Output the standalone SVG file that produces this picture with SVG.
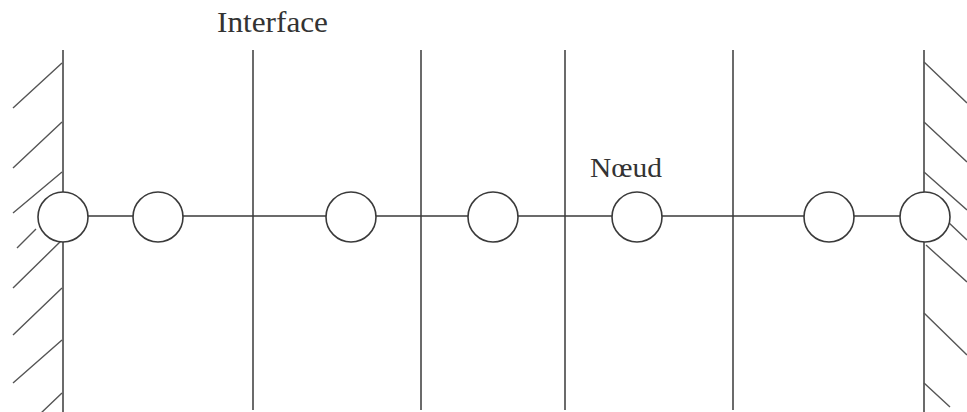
<svg xmlns="http://www.w3.org/2000/svg" width="967" height="412" viewBox="0 0 967 412">
<style>
.ln{stroke:#3a3a3a;stroke-width:1.5;fill:none}
.ht{stroke:#555;stroke-width:1.4;fill:none}
.nd{stroke:#3a3a3a;stroke-width:1.6;fill:#fff}
.lb{font-family:"Liberation Serif",serif;fill:#333}
</style>
<rect width="967" height="412" fill="#fff"/>
<g id="wall-left">
<line class="ln" x1="63" y1="50" x2="63" y2="412"/>
<path class="ht" d="M62,63 L13,108 M62,122 L13,168 M62,172 L13,213 M36,229 L17,248 M62,240 L13,288 M62,288 L13,335 M62,340 L13,383 M62,393 L40,414"/>
</g>
<g id="wall-right">
<line class="ln" x1="924" y1="50" x2="924" y2="412"/>
<path class="ht" d="M924,62 L967,103 M924,122 L967,162 M924,172 L967,210 M947,221 L967,240 M926,245 L967,282 M924,313 L967,355 M924,383 L950,407"/>
</g>
<g id="interfaces">
<line class="ln" x1="253" y1="50" x2="253" y2="410"/>
<line class="ln" x1="421" y1="50" x2="421" y2="410"/>
<line class="ln" x1="565" y1="50" x2="565" y2="410"/>
<line class="ln" x1="733" y1="50" x2="733" y2="410"/>
</g>
<g id="connectors">
<line class="ln" x1="63" y1="216" x2="924" y2="216"/>
</g>
<g id="node1"><circle class="nd" cx="63" cy="217" r="25"/></g>
<g id="node2"><circle class="nd" cx="158" cy="217" r="25"/></g>
<g id="node3"><circle class="nd" cx="351" cy="217" r="25"/></g>
<g id="node4"><circle class="nd" cx="493" cy="217" r="25"/></g>
<g id="node5"><circle class="nd" cx="637" cy="217" r="25"/></g>
<g id="node6"><circle class="nd" cx="829" cy="217" r="25"/></g>
<g id="node7"><circle class="nd" cx="925" cy="217" r="25"/></g>
<g id="labels">
<text class="lb" x="217" y="32" font-size="30" textLength="111" lengthAdjust="spacingAndGlyphs">Interface</text>
<text class="lb" x="590" y="177" font-size="28" textLength="72" lengthAdjust="spacingAndGlyphs">Nœud</text>
</g>
</svg>
